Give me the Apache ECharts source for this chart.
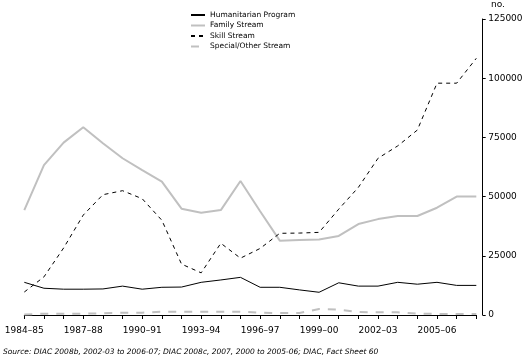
<!DOCTYPE html>
<html>
<head>
<meta charset="utf-8">
<script src="https://cdn.jsdelivr.net/npm/echarts@6/dist/echarts.min.js"></script>
<style>
html,body{margin:0;padding:0;background:#fff;}
#c{width:529px;height:363px;}
</style>
</head>
<body>
<div id="c"></div>
<script>
var years = ['1984–85','1985–86','1986–87','1987–88','1988–89','1989–90','1990–91','1991–92','1992–93','1993–94','1994–95','1995–96','1996–97','1997–98','1998–99','1999–00','2000–01','2001–02','2002–03','2003–04','2004–05','2005–06','2006–07','2007–08'];
var humanitarian = [13800, 11300, 10900, 10900, 11000, 12200, 10900, 11700, 11800, 13800, 14800, 15900, 11700, 11700, 10600, 9600, 13600, 12200, 12200, 13800, 13000, 13800, 12500, 12500];
var family = [44300, 63300, 72800, 79300, 72500, 66200, 61200, 56300, 44900, 43200, 44300, 56600, 43800, 31400, 31700, 31900, 33400, 38400, 40500, 41800, 41800, 45300, 50000, 50000];
var skill = [9700, 16100, 28300, 42200, 50800, 52500, 49100, 40000, 21500, 17800, 30300, 24000, 28100, 34500, 34600, 34900, 44700, 53900, 66200, 71400, 78100, 97900, 97900, 108400];
var special = [200, 550, 550, 550, 750, 970, 970, 1390, 1390, 1390, 1390, 1390, 970, 840, 840, 2500, 2300, 1270, 1140, 1140, 630, 420, 420, 420];
var seriesNames = ['Humanitarian Program', 'Family Stream', 'Skill Stream', 'Special/Other Stream'];
var yTicks = {min: 0, max: 125000, interval: 25000};
var unitLabel = 'no.';
var sourceText = 'Source: DIAC 2008b, 2002-03 to 2006-07; DIAC 2008c, 2007, 2000 to 2005-06; DIAC, Fact Sheet 60';

var FONT = 'DejaVu Sans';
var chart = echarts.init(document.getElementById('c'), null, {renderer: 'canvas'});
function mk(name, data, color, width, type) {
  return {
    name: name, type: 'line', data: data, symbol: 'none', showSymbol: false,
    smooth: false, animation: false,
    lineStyle: {color: color, width: width, type: type},
    itemStyle: {color: color}
  };
}
chart.setOption({
  animation: false,
  backgroundColor: '#fff',
  textStyle: {fontFamily: FONT},
  title: {
    text: unitLabel, left: 491, top: 0, padding: 0,
    textStyle: {fontSize: 9, fontWeight: 'normal', color: '#000', fontFamily: FONT}
  },
  legend: {
    orient: 'vertical', left: 190, top: 11,
    itemWidth: 14, itemHeight: 8, itemGap: 2.5,
    padding: 0,
    itemStyle: {opacity: 0},
    textStyle: {fontSize: 7.5, color: '#000', fontFamily: FONT},
    data: seriesNames
  },
  grid: {left: 24.3, right: 52.7, top: 19, bottom: 48, containLabel: false},
  xAxis: {
    type: 'category', data: years, boundaryGap: false, offset: 7.5,
    axisLine: {lineStyle: {color: '#000', width: 1}},
    axisTick: {show: true, interval: 0, length: 4, lineStyle: {color: '#000'}},
    axisLabel: {interval: 2, fontSize: 9, color: '#000', margin: 4, fontFamily: FONT},
    splitLine: {show: false}
  },
  yAxis: {
    type: 'value', position: 'right', offset: 6.4,
    min: yTicks.min, max: yTicks.max, interval: yTicks.interval,
    axisLine: {show: true, lineStyle: {color: '#000', width: 1}},
    axisTick: {show: true, length: 3, lineStyle: {color: '#000'}},
    axisLabel: {fontSize: 9, color: '#000', margin: 5.5, fontFamily: FONT,
      formatter: function (v) { return String(v); }},
    splitLine: {show: false}
  },
  graphic: [{
    type: 'text', left: 3, top: 348,
    style: {text: sourceText, fontSize: 7.5, fontStyle: 'italic', fontFamily: FONT, fill: '#000'}
  }],
  series: [
    mk(seriesNames[0], humanitarian, '#000000', 1, 'solid'),
    mk(seriesNames[1], family, '#c0c0c0', 2, 'solid'),
    mk(seriesNames[2], skill, '#000000', 1, [4, 4]),
    mk(seriesNames[3], special, '#c0c0c0', 2, [8, 8])
  ]
});
</script>
</body>
</html>
